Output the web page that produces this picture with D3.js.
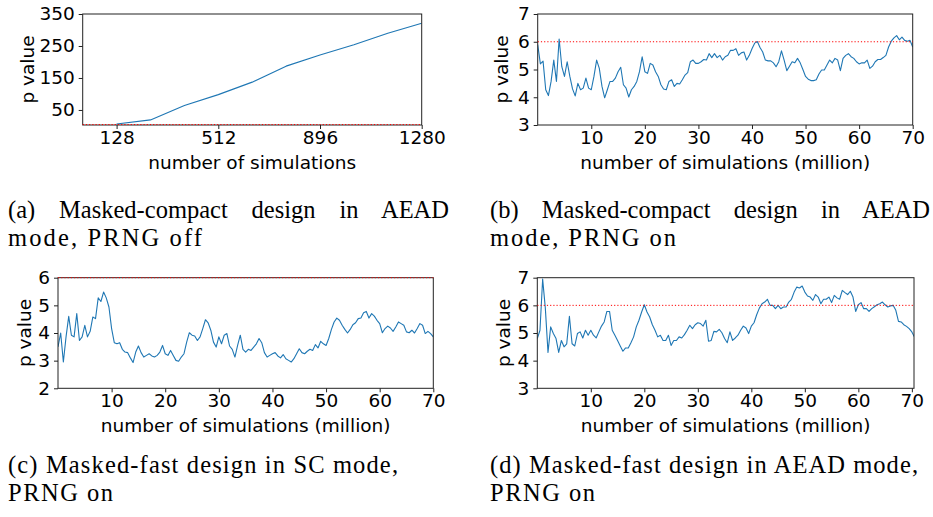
<!DOCTYPE html>
<html>
<head>
<meta charset="utf-8">
<script src="https://cdn.jsdelivr.net/npm/d3@7"></script>
<style>
  body { margin: 0; background: #fff; }
  svg { display: block; }
</style>
</head>
<body>
<svg id="fig" width="933" height="517"></svg>
<script>
// (a) compact design, PRNG off: p value vs number of simulations
const compactOffSims = [128, 256, 384, 512, 640, 768, 896, 1024, 1152, 1280];
const compactOffP = [6, 19, 64, 98, 137, 187, 222, 254, 290, 321];
const compactOffTicks = [128, 512, 896, 1280];
const compactOffYTicks = [50, 150, 250, 350];

// (b), (c), (d): one reading every half million simulations, starting at 0
const millionStep = 0.5;
const compactOnP = [
  5.9, 5.2, 5.3, 4.27, 4.06, 4.57, 5.34, 4.57, 6.1, 5.1,
  4.75, 5.28, 4.75, 4.3, 4.05, 4.5, 4.27, 4.33, 4.69, 4.33,
  4.27, 4.75, 5.34, 5.04, 4.39, 3.98, 4.27, 4.57, 4.57, 4.69,
  4.92, 5.08, 4.45, 4.33, 4.01, 4.27, 4.39, 4.57, 4.92, 5.46,
  4.92, 4.86, 5.22, 5.16, 4.92, 4.75, 4.45, 4.3, 4.27, 4.57,
  4.63, 4.39, 4.5, 4.48, 4.63, 4.8, 4.89, 5.28, 5.34, 5.22,
  5.22, 5.28, 5.36, 5.34, 5.57, 5.43, 5.57, 5.43, 5.51, 5.34,
  5.46, 5.51, 5.69, 5.69, 5.75, 5.51, 5.6, 5.63, 5.34, 5.51,
  5.75, 5.95, 6.01, 5.79, 5.63, 5.34, 5.31, 5.31, 5.24, 5.1,
  5.28, 5.67, 5.34, 4.96, 5.12, 5.28, 5.24, 5.4, 5.24, 5.0,
  4.75, 4.65, 4.6, 4.6, 4.63, 4.84, 4.98, 4.98, 5.16, 5.34,
  5.24, 5.4, 5.34, 4.96, 5.4, 5.51, 5.57, 5.46, 5.4, 5.28,
  5.2, 5.24, 5.24, 5.34, 5.04, 5.12, 5.28, 5.36, 5.36, 5.43,
  5.51, 5.81, 6.02, 6.14, 6.22, 6.07, 6.17, 6.05, 6.02, 6.05,
  5.81
];
const fastScP = [
  3.5, 4.0, 2.95, 3.86, 4.6, 3.92, 3.86, 4.7, 3.73, 3.86,
  4.28, 3.86, 4.06, 4.58, 4.52, 5.27, 5.14, 5.48, 5.27, 4.94,
  4.16, 3.65, 3.61, 3.65, 3.41, 3.31, 3.29, 3.1, 2.93, 3.31,
  3.53, 3.29, 3.13, 3.19, 3.25, 3.17, 3.13, 3.19, 3.31, 3.55,
  3.25, 3.19, 3.37, 3.19, 3.01, 2.98, 3.13, 3.25, 3.67, 4.01,
  3.92, 3.89, 3.73, 3.86, 4.16, 4.48, 4.37, 4.1, 3.67, 3.49,
  3.86, 3.61, 3.92, 3.98, 3.53, 3.41, 3.13, 3.55, 3.92, 3.41,
  3.31, 3.41, 3.37, 3.49, 3.61, 3.8, 3.65, 3.29, 3.13, 3.19,
  3.25, 3.29, 3.17, 3.1, 3.22, 3.07, 3.01, 2.95, 3.07, 3.25,
  3.43, 3.29, 3.25, 3.34, 3.41, 3.37, 3.58, 3.46, 3.7, 3.61,
  3.55, 3.8, 4.13, 4.4, 4.54, 4.46, 4.28, 4.13, 4.0, 4.13,
  4.3, 4.37, 4.52, 4.54, 4.73, 4.78, 4.54, 4.7, 4.61, 4.46,
  4.34, 4.01, 4.16, 4.25, 4.18, 4.06, 4.22, 4.4, 4.34, 4.28,
  4.04, 4.01, 4.1, 4.0, 4.16, 4.34, 4.28, 3.98, 4.06, 3.98,
  3.86
];
const fastAeadP = [
  4.8, 5.1, 6.95, 5.9, 4.3, 5.22, 4.98, 4.8, 4.3, 4.73,
  4.5, 4.61, 5.6, 4.61, 4.53, 4.98, 5.04, 4.82, 5.1, 4.92,
  5.1, 4.92, 4.82, 5.04, 5.25, 5.4, 5.78, 5.78, 5.1, 4.92,
  4.73, 4.53, 4.34, 4.46, 4.46, 4.65, 4.86, 5.22, 5.46, 5.76,
  6.02, 5.76, 5.58, 5.3, 5.1, 4.86, 4.92, 4.73, 4.73, 4.92,
  4.55, 4.73, 4.73, 4.86, 4.82, 4.94, 5.1, 5.28, 5.16, 5.3,
  5.37, 5.34, 5.25, 5.46, 4.7, 4.73, 5.06, 5.04, 5.13, 5.01,
  4.8, 4.65, 5.04, 4.73, 4.82, 4.92, 5.1, 5.25, 5.18, 4.98,
  5.25, 5.37, 5.66, 5.9, 6.06, 6.12, 6.22, 6.0, 6.0, 5.88,
  6.0, 5.88, 5.94, 5.94, 6.12, 6.22, 6.48, 6.66, 6.63, 6.7,
  6.48, 6.34, 6.3, 6.18, 6.39, 6.3, 6.06, 6.22, 6.22, 6.3,
  6.1, 6.36, 6.27, 6.22, 6.54, 6.46, 6.39, 6.51, 6.3, 5.78,
  6.02, 6.1, 5.88, 5.88, 5.78, 5.88, 5.95, 6.02, 6.06, 6.12,
  6.02, 5.94, 5.98, 6.0, 5.82, 5.42, 5.4, 5.3, 5.24, 5.16,
  5.04, 4.85
];
const millionTicks = [10, 20, 30, 40, 50, 60, 70];

const thresholds = { a: 4.5, b: 6, c: 6, d: 6 };

// caption lines; first lines of (a) and (b) are justified to full column width
const captions = [
  { lines: ["(a) Masked-compact design in AEAD", "mode, PRNG off"], x: 8, y: 218, widths: [441, 194], justify: true },
  { lines: ["(b) Masked-compact design in AEAD", "mode, PRNG on"], x: 490, y: 218, widths: [440, 186], justify: true },
  { lines: ["(c) Masked-fast design in SC mode,", "PRNG on"], x: 8, y: 473, widths: [390, 105], justify: false },
  { lines: ["(d) Masked-fast design in AEAD mode,", "PRNG on"], x: 490, y: 473, widths: [428, 105], justify: false }
];

const svg = d3.select("#fig");
const blue = "#1f77b4";
const fontSans = "DejaVu Sans, sans-serif";

function toPoints(values) {
  return values.map((v, i) => ({ x: i * millionStep, y: v }));
}

function drawPanel(opt) {
  const x = d3.scaleLinear().domain(opt.xDomain).range([opt.left, opt.right]);
  const y = d3.scaleLinear().domain(opt.yDomain).range([opt.bottom, opt.top]);
  const g = svg.append("g");

  g.append("clipPath").attr("id", "clip-" + opt.id)
    .append("rect")
    .attr("x", opt.left).attr("y", opt.top)
    .attr("width", opt.right - opt.left).attr("height", opt.bottom - opt.top);

  const line = d3.line().x(d => x(d.x)).y(d => y(d.y));

  g.append("path")
    .datum(opt.points)
    .attr("clip-path", `url(#clip-${opt.id})`)
    .attr("fill", "none")
    .attr("stroke", blue)
    .attr("stroke-width", 1.1)
    .attr("stroke-linejoin", "round")
    .attr("d", line);

  // spines
  g.append("rect")
    .attr("x", opt.left).attr("y", opt.top)
    .attr("width", opt.right - opt.left).attr("height", opt.bottom - opt.top)
    .attr("fill", "none").attr("stroke", "#222").attr("stroke-width", 1);

  // threshold line
  g.append("line")
    .attr("x1", opt.left).attr("x2", opt.right)
    .attr("y1", y(opt.threshold)).attr("y2", y(opt.threshold))
    .attr("stroke", "#ff0000").attr("stroke-width", 1)
    .attr("stroke-dasharray", "1.2,2");

  const xAxis = g.append("g")
    .attr("transform", `translate(0,${opt.bottom})`)
    .call(d3.axisBottom(x).tickValues(opt.xTicks).tickSize(4).tickPadding(2).tickFormat(d3.format("d")));
  const yAxis = g.append("g")
    .attr("transform", `translate(${opt.left},0)`)
    .call(d3.axisLeft(y).tickValues(opt.yTicks).tickSize(4).tickPadding(4).tickFormat(d3.format("d")));

  [xAxis, yAxis].forEach(ax => {
    ax.select(".domain").remove();
    ax.selectAll("line").attr("stroke", "#222");
    ax.selectAll("text")
      .attr("fill", "#000")
      .style("font-family", fontSans)
      .style("font-size", "18.5px");
  });

  g.append("text")
    .attr("x", (opt.left + opt.right) / 2)
    .attr("y", opt.bottom + 44)
    .attr("text-anchor", "middle")
    .style("font-family", fontSans)
    .style("font-size", "18.5px")
    .text(opt.xLabel);

  g.append("text")
    .attr("transform", `translate(${opt.yLabelX + 5},${(opt.top + opt.bottom) / 2}) rotate(-90)`)
    .attr("text-anchor", "middle")
    .style("font-family", fontSans)
    .style("font-size", "18.5px")
    .text("p value");
}

drawPanel({
  id: "a", left: 82.7, right: 421.7, top: 14, bottom: 125,
  xDomain: [0, 1280], yDomain: [3, 350],
  points: compactOffSims.map((s, i) => ({ x: s, y: compactOffP[i] })),
  xTicks: compactOffTicks, yTicks: compactOffYTicks,
  threshold: thresholds.a, xLabel: "number of simulations", yLabelX: 28.5
});
drawPanel({
  id: "b", left: 537.7, right: 912.7, top: 14, bottom: 125,
  xDomain: [0, 70], yDomain: [3, 7],
  points: toPoints(compactOnP),
  xTicks: millionTicks, yTicks: [3, 4, 5, 6, 7],
  threshold: thresholds.b, xLabel: "number of simulations (million)", yLabelX: 503
});
drawPanel({
  id: "c", left: 58, right: 433.3, top: 277.7, bottom: 388.3,
  xDomain: [0, 70], yDomain: [2, 6],
  points: toPoints(fastScP),
  xTicks: millionTicks, yTicks: [2, 3, 4, 5, 6],
  threshold: thresholds.c, xLabel: "number of simulations (million)", yLabelX: 26
});
drawPanel({
  id: "d", left: 537.3, right: 914, top: 277.7, bottom: 388.3,
  xDomain: [0, 70.4], yDomain: [3, 7],
  points: toPoints(fastAeadP),
  xTicks: millionTicks, yTicks: [3, 4, 5, 6, 7],
  threshold: thresholds.d, xLabel: "number of simulations (million)", yLabelX: 505
});

// captions
captions.forEach(c => {
  c.lines.forEach((t, i) => {
    const txt = svg.append("text")
      .attr("x", c.x)
      .attr("y", c.y + i * 28)
      .style("font-family", "Liberation Serif, serif")
      .style("font-size", "24.5px")
      .text(t);
    const natural = txt.node().getComputedTextLength();
    if (c.justify && i === 0) {
      const gaps = t.split(" ").length - 1;
      txt.style("word-spacing", ((c.widths[i] - natural) / gaps) + "px");
    } else if (natural < c.widths[i]) {
      txt.attr("textLength", c.widths[i]).attr("lengthAdjust", "spacing");
    }
  });
});
</script>
</body>
</html>
